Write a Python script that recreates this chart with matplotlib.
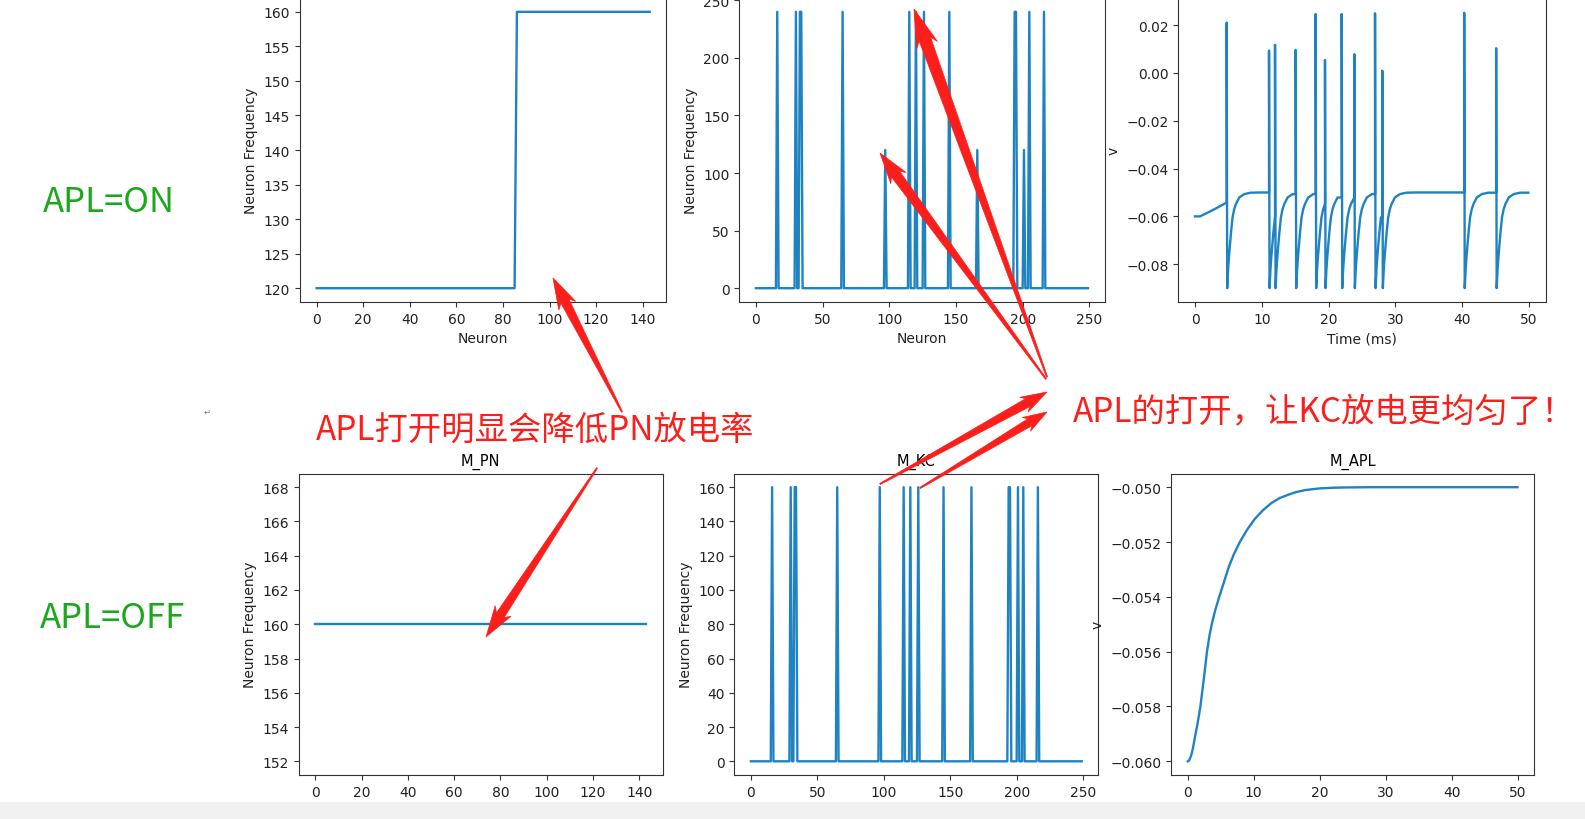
import matplotlib
matplotlib.use('Agg')
import matplotlib.pyplot as plt
import numpy as np
from matplotlib.patches import Polygon, Rectangle


# PN firing rate per neuron (144 neurons)
pn_count = 144
pn_on_low = 120
pn_on_high = 160
pn_on_step = 86          # first neuron at the high rate
pn_off_rate = 160

# KC firing rate: 250 neurons, zero except these
kc_count = 250
kc_spike_idx = [16, 30, 33, 34, 65, 97, 115, 120, 126, 145, 166, 194, 195, 201, 205, 216]
kc_on_rate = [240, 240, 240, 240, 240, 120, 240, 240, 240, 240, 120, 240, 240, 120, 240, 240]
kc_off_rate = [160, 160, 160, 160, 160, 160, 160, 160, 160, 160, 160, 160, 160, 160, 160, 160]

# APL membrane potential, APL on (ms, V)
apl_on_start_t = [0.0, 0.75, 2.0, 3.25, 4.74]
apl_on_start_v = [-0.0600, -0.0600, -0.0583, -0.0565, -0.0542]
apl_on_spike_t = [4.74, 11.08, 11.98, 15.07, 18.06, 19.46, 21.96, 23.85, 26.95, 28.04, 40.3, 45.08]
apl_on_spike_v = [0.0210, 0.0093, 0.0117, 0.0096, 0.0246, 0.0054, 0.0246, 0.0078, 0.0249, 0.0009, 0.0251, 0.0103]
apl_on_recov_dt = [0.0, 0.15, 0.3, 0.55, 0.8, 1.05, 1.3, 1.8, 2.55, 3.5, 5.0]
apl_on_recov_v = [-0.0900, -0.0815, -0.0757, -0.0674, -0.0604, -0.0570, -0.0549, -0.0521, -0.0507, -0.0501, -0.0500]
apl_on_end_t = 49.9

# APL membrane potential, APL off (ms, V)
apl_off_t = [0.0, 0.2, 0.5, 0.8, 1.1, 1.5, 1.91, 2.4, 2.91, 3.3, 3.68, 4.2, 4.77, 5.5, 6.2, 7.0, 7.89,
             9.0, 10.15, 11.4, 12.66, 13.9, 15.17, 16.4, 17.69, 19.0, 20.2, 22.0, 23.7, 27.7, 35.0, 50.0]
apl_off_v = [-0.0600, -0.05997, -0.05980, -0.05950, -0.05910, -0.05860, -0.05800, -0.05705, -0.05600,
             -0.05540, -0.05495, -0.05445, -0.05400, -0.05345, -0.05292, -0.05244, -0.05200, -0.05155,
             -0.05116, -0.05084, -0.05058, -0.05040, -0.05028, -0.05018, -0.05011, -0.05007, -0.05004,
             -0.05002, -0.05001, -0.05000, -0.05000, -0.05000]

W, H = 1585, 820
LINE = '#1f82c2'
RED = '#fb1e1a'
GREEN = '#1ca81c'

plt.rcParams['font.family'] = ['DejaVu Sans']
plt.rcParams['font.size'] = 10
plt.rcParams['axes.edgecolor'] = '#333333'
plt.rcParams['xtick.color'] = '#333333'
plt.rcParams['ytick.color'] = '#333333'
plt.rcParams['xtick.labelcolor'] = '#222222'
plt.rcParams['ytick.labelcolor'] = '#222222'
plt.rcParams['axes.labelcolor'] = '#222222'


def px_rect(x0, y0, x1, y1):
    return [x0 / W, 1 - y1 / H, (x1 - x0) / W, (y1 - y0) / H]


def kc_rates(heights):
    r = np.zeros(kc_count)
    r[kc_spike_idx] = heights
    return r


def apl_on_trace():
    t = list(apl_on_start_t)
    v = list(apl_on_start_v)
    nxt = apl_on_spike_t[1:] + [apl_on_end_t]
    for ts, peak, tn in zip(apl_on_spike_t, apl_on_spike_v, nxt):
        if t[-1] < ts:
            t.append(ts)
            v.append(v[-1])
        t.append(ts)
        v.append(peak)
        for dt, rv in zip(apl_on_recov_dt, apl_on_recov_v):
            if ts + 0.08 + dt < tn:
                t.append(ts + 0.08 + dt)
                v.append(rv)
        if t[-1] < tn:
            t.append(tn)
            v.append(v[-1])
    return t, v


def red_arrow(tail, tip, shaft=10, head=20, hlen=26):
    T = np.array(tail, float)
    P = np.array(tip, float)
    u = (P - T) / np.linalg.norm(P - T)
    n = np.array([-u[1], u[0]])
    B = P - u * hlen
    pts = [T + n * 0.6, B + n * shaft / 2, B - u * hlen * 0.2 + n * head / 2, P,
           B - u * hlen * 0.2 - n * head / 2, B - n * shaft / 2, T - n * 0.6]
    pts = [(p[0] / W, 1 - p[1] / H) for p in pts]
    fig.add_artist(Polygon(pts, closed=True, transform=fig.transFigure,
                           facecolor=RED, edgecolor=RED, lw=0.5, zorder=5))


fig = plt.figure(figsize=(W / 100, H / 100), dpi=100)

# ---- APL on (top row)
ax1 = fig.add_axes(px_rect(300, -1, 666.3, 303))
neurons = np.arange(pn_count)
ax1.plot(neurons, np.where(neurons < pn_on_step, pn_on_low, pn_on_high), color=LINE, lw=1.7)
ax1.set_xlim(-7.15, 150.15)
ax1.set_ylim(118, 162)
ax1.set_xlabel('Neuron')
ax1.set_ylabel('Neuron Frequency')

ax2 = fig.add_axes(px_rect(739.3, -1, 1104.6, 303))
ax2.plot(np.arange(kc_count), kc_rates(kc_on_rate), color=LINE, lw=1.7)
ax2.set_xlim(-12.45, 261.45)
ax2.set_ylim(-12, 252)
ax2.set_xlabel('Neuron')
ax2.set_ylabel('Neuron Frequency')

ax3 = fig.add_axes(px_rect(1178.3, -1, 1545.7, 303))
t_on, v_on = apl_on_trace()
ax3.plot(t_on, v_on, color=LINE, lw=1.7)
ax3.set_xlim(-2.5, 52.5)
ax3.set_ylim(-0.0958, 0.0313)
ax3.set_xlabel('Time (ms)')
ax3.set_ylabel('v')

# ---- APL off (bottom row)
ax4 = fig.add_axes(px_rect(298.7, 474.5, 662.7, 776))
ax4.plot(neurons, np.full(pn_count, pn_off_rate), color=LINE, lw=1.7)
ax4.set_xlim(-7.15, 150.15)
ax4.set_ylim(151.2, 168.8)
ax4.set_title('M_PN', fontsize=10.5)
ax4.set_ylabel('Neuron Frequency')

ax5 = fig.add_axes(px_rect(734.3, 474.5, 1098.3, 776))
ax5.plot(np.arange(kc_count), kc_rates(kc_off_rate), color=LINE, lw=1.7)
ax5.set_xlim(-12.45, 261.45)
ax5.set_ylim(-8, 168)
ax5.set_title('M_KC', fontsize=10.5)
ax5.set_ylabel('Neuron Frequency')

ax6 = fig.add_axes(px_rect(1171.3, 474.5, 1534, 776))
ax6.plot(apl_off_t, apl_off_v, color=LINE, lw=1.7)
ax6.set_xlim(-2.5, 52.5)
ax6.set_ylim(-0.0605, -0.0495)
ax6.set_title('M_APL', fontsize=10.5)
ax6.set_ylabel('v')

# ---- annotations
cjk = ['Noto Sans CJK SC', 'DejaVu Sans']
fig.text(42.7 / W, 1 - 211.7 / H, 'APL=ON', color=GREEN, fontsize=25, family=cjk, va='baseline')
fig.text(39.8 / W, 1 - 628.3 / H, 'APL=OFF', color=GREEN, fontsize=25, family=cjk, va='baseline')
fig.text(316 / W, 1 - 440 / H, 'APL打开明显会降低PN放电率', color=RED, fontsize=24, family=cjk, va='baseline')
fig.text(1073 / W, 1 - 421.7 / H, 'APL的打开，让KC放电更均匀了！', color=RED, fontsize=24, family=cjk, va='baseline')
fig.text(206.7 / W, 1 - 412.3 / H, '↵', color='#777777', fontsize=6, ha='center', va='center')

red_arrow((622, 413), (553, 279), shaft=9, head=19, hlen=26)
red_arrow((597, 469), (486, 638), shaft=9, head=19, hlen=26)
red_arrow((1047, 378), (914, 10), shaft=12, head=22, hlen=32)
red_arrow((1046, 380), (880, 154), shaft=10, head=19, hlen=26)
red_arrow((880, 485), (1047, 393), shaft=9, head=17, hlen=22)
red_arrow((920, 489), (1047, 413), shaft=8, head=16, hlen=20)

# grey strip at the bottom of the screenshot
fig.add_artist(Rectangle((0, 0), 1, 17 / H, transform=fig.transFigure,
                         facecolor='#f0f0f0', edgecolor='none', zorder=10))

fig.savefig('out.png', dpi=100)
